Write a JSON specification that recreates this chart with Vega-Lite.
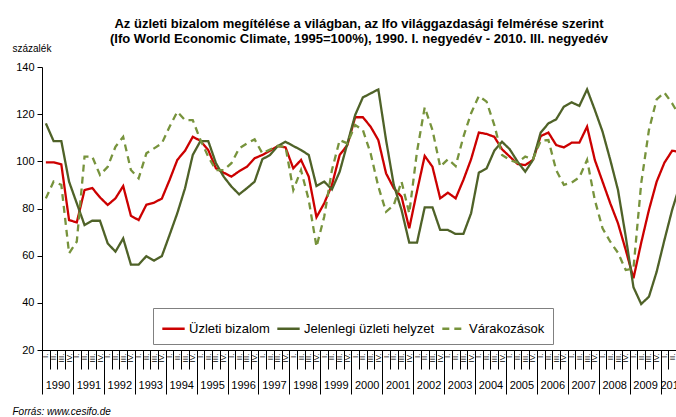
{
  "$schema": "https://vega.github.io/schema/vega-lite/v6.json",
  "width": 634,
  "height": 283,
  "autosize": {"type": "none"},
  "padding": {"left": 42, "top": 67, "right": 0, "bottom": 67},
  "background": "white",
  "config": {
    "view": {"stroke": null},
    "font": "Liberation Sans",
    "axis": {"domainColor": "black", "tickColor": "black", "labelColor": "black", "titleColor": "black", "grid": false, "labelFont": "Liberation Sans", "titleFont": "Liberation Sans"}
  },
  "title": {
    "text": ["Az üzleti bizalom megítélése a világban, az Ifo világgazdasági felmérése szerint", "(Ifo World Economic Climate, 1995=100%), 1990. I. negyedév - 2010. III.  negyedév"],
    "anchor": "middle",
    "fontSize": 13,
    "fontWeight": "bold",
    "font": "Liberation Sans",
    "color": "black",
    "lineHeight": 15,
    "offset": -3
  },
  "data": {
    "values": [
      {"t":1990.125,"Üzleti bizalom":99.6,"Jelenlegi üzleti helyzet":116.1,"Várakozások":84.3},
      {"t":1990.375,"Üzleti bizalom":99.6,"Jelenlegi üzleti helyzet":108.6,"Várakozások":91.4},
      {"t":1990.625,"Üzleti bizalom":98.7,"Jelenlegi üzleti helyzet":108.6,"Várakozások":90.0},
      {"t":1990.875,"Üzleti bizalom":75.1,"Jelenlegi üzleti helyzet":91.4,"Várakozások":61.0},
      {"t":1991.125,"Üzleti bizalom":74.1,"Jelenlegi üzleti helyzet":82.2,"Várakozások":66.0},
      {"t":1991.375,"Üzleti bizalom":87.8,"Jelenlegi üzleti helyzet":73.0,"Várakozások":102.0},
      {"t":1991.625,"Üzleti bizalom":88.7,"Jelenlegi üzleti helyzet":74.8,"Várakozások":102.0},
      {"t":1991.875,"Üzleti bizalom":84.7,"Jelenlegi üzleti helyzet":74.8,"Várakozások":94.2},
      {"t":1992.125,"Üzleti bizalom":81.5,"Jelenlegi üzleti helyzet":65.2,"Várakozások":97.7},
      {"t":1992.375,"Üzleti bizalom":84.3,"Jelenlegi üzleti helyzet":61.7,"Várakozások":106.2},
      {"t":1992.625,"Üzleti bizalom":89.5,"Jelenlegi üzleti helyzet":67.3,"Várakozások":110.4},
      {"t":1992.875,"Üzleti bizalom":76.9,"Jelenlegi üzleti helyzet":56.2,"Várakozások":96.3},
      {"t":1993.125,"Üzleti bizalom":75.1,"Jelenlegi üzleti helyzet":56.2,"Várakozások":92.8},
      {"t":1993.375,"Üzleti bizalom":81.6,"Jelenlegi üzleti helyzet":59.8,"Várakozások":103.4},
      {"t":1993.625,"Üzleti bizalom":82.5,"Jelenlegi üzleti helyzet":57.9,"Várakozások":105.5},
      {"t":1993.875,"Üzleti bizalom":84.2,"Jelenlegi üzleti helyzet":59.8,"Várakozások":107.6},
      {"t":1994.125,"Üzleti bizalom":92.1,"Jelenlegi üzleti helyzet":68.8,"Várakozások":114.7},
      {"t":1994.375,"Üzleti bizalom":100.6,"Jelenlegi üzleti helyzet":78.0,"Várakozások":121.0},
      {"t":1994.625,"Üzleti bizalom":104.5,"Jelenlegi üzleti helyzet":88.6,"Várakozások":117.5},
      {"t":1994.875,"Üzleti bizalom":110.4,"Jelenlegi üzleti helyzet":102.7,"Várakozások":117.5},
      {"t":1995.125,"Üzleti bizalom":108.7,"Jelenlegi üzleti helyzet":108.6,"Várakozások":109.0},
      {"t":1995.375,"Üzleti bizalom":104.8,"Jelenlegi üzleti helyzet":108.6,"Várakozások":102.0},
      {"t":1995.625,"Üzleti bizalom":97.0,"Jelenlegi üzleti helyzet":99.2,"Várakozások":96.3},
      {"t":1995.875,"Üzleti bizalom":95.2,"Jelenlegi üzleti helyzet":93.5,"Várakozások":96.3},
      {"t":1996.125,"Üzleti bizalom":93.5,"Jelenlegi üzleti helyzet":89.3,"Várakozások":99.2},
      {"t":1996.375,"Üzleti bizalom":95.8,"Jelenlegi üzleti helyzet":86.0,"Várakozások":105.5},
      {"t":1996.625,"Üzleti bizalom":97.7,"Jelenlegi üzleti helyzet":88.6,"Várakozások":107.6},
      {"t":1996.875,"Üzleti bizalom":101.3,"Jelenlegi üzleti helyzet":91.4,"Várakozások":109.3},
      {"t":1997.125,"Üzleti bizalom":102.7,"Jelenlegi üzleti helyzet":100.9,"Várakozások":103.4},
      {"t":1997.375,"Üzleti bizalom":104.5,"Jelenlegi üzleti helyzet":102.7,"Várakozások":105.0},
      {"t":1997.625,"Üzleti bizalom":106.5,"Jelenlegi üzleti helyzet":106.5,"Várakozások":106.5},
      {"t":1997.875,"Üzleti bizalom":105.9,"Jelenlegi üzleti helyzet":108.3,"Várakozások":106.2},
      {"t":1998.125,"Üzleti bizalom":97.0,"Jelenlegi üzleti helyzet":106.5,"Várakozások":87.8},
      {"t":1998.375,"Üzleti bizalom":100.6,"Jelenlegi üzleti helyzet":104.8,"Várakozások":96.3},
      {"t":1998.625,"Üzleti bizalom":93.5,"Jelenlegi üzleti helyzet":102.7,"Várakozások":83.6},
      {"t":1998.875,"Üzleti bizalom":76.3,"Jelenlegi üzleti helyzet":89.5,"Várakozások":63.8},
      {"t":1999.125,"Üzleti bizalom":82.2,"Jelenlegi üzleti helyzet":91.4,"Várakozások":76.5},
      {"t":1999.375,"Üzleti bizalom":90.0,"Jelenlegi üzleti helyzet":88.1,"Várakozások":96.3},
      {"t":1999.625,"Üzleti bizalom":102.7,"Jelenlegi üzleti helyzet":95.6,"Várakozások":109.0},
      {"t":1999.875,"Üzleti bizalom":106.9,"Jelenlegi üzleti helyzet":107.6,"Várakozások":107.6},
      {"t":2000.125,"Üzleti bizalom":118.7,"Jelenlegi üzleti helyzet":119.6,"Várakozások":115.4},
      {"t":2000.375,"Üzleti bizalom":118.7,"Jelenlegi üzleti helyzet":127.1,"Várakozások":113.3},
      {"t":2000.625,"Üzleti bizalom":114.7,"Jelenlegi üzleti helyzet":128.8,"Várakozások":103.4},
      {"t":2000.875,"Üzleti bizalom":109.0,"Jelenlegi üzleti helyzet":130.5,"Várakozások":89.3},
      {"t":2001.125,"Üzleti bizalom":94.9,"Jelenlegi üzleti helyzet":109.0,"Várakozások":78.6},
      {"t":2001.375,"Üzleti bizalom":88.6,"Jelenlegi üzleti helyzet":90.0,"Várakozások":81.5},
      {"t":2001.625,"Üzleti bizalom":85.0,"Jelenlegi üzleti helyzet":79.4,"Várakozások":91.4},
      {"t":2001.875,"Üzleti bizalom":71.6,"Jelenlegi üzleti helyzet":65.5,"Várakozások":78.0},
      {"t":2002.125,"Üzleti bizalom":87.3,"Jelenlegi üzleti helyzet":65.5,"Várakozások":104.1},
      {"t":2002.375,"Üzleti bizalom":102.3,"Jelenlegi üzleti helyzet":80.5,"Várakozások":122.9},
      {"t":2002.625,"Üzleti bizalom":97.7,"Jelenlegi üzleti helyzet":80.5,"Várakozások":113.3},
      {"t":2002.875,"Üzleti bizalom":84.3,"Jelenlegi üzleti helyzet":70.9,"Várakozások":97.7},
      {"t":2003.125,"Üzleti bizalom":86.7,"Jelenlegi üzleti helyzet":70.9,"Várakozások":100.9},
      {"t":2003.375,"Üzleti bizalom":84.3,"Jelenlegi üzleti helyzet":69.2,"Várakozások":98.0},
      {"t":2003.625,"Üzleti bizalom":92.1,"Jelenlegi üzleti helyzet":69.2,"Várakozások":110.4},
      {"t":2003.875,"Üzleti bizalom":100.9,"Jelenlegi üzleti helyzet":78.0,"Várakozások":120.4},
      {"t":2004.125,"Üzleti bizalom":112.2,"Jelenlegi üzleti helyzet":95.2,"Várakozások":127.7},
      {"t":2004.375,"Üzleti bizalom":111.6,"Jelenlegi üzleti helyzet":97.0,"Várakozások":125.3},
      {"t":2004.625,"Üzleti bizalom":110.4,"Jelenlegi üzleti helyzet":104.5,"Várakozások":115.4},
      {"t":2004.875,"Üzleti bizalom":105.1,"Jelenlegi üzleti helyzet":108.3,"Várakozások":102.7},
      {"t":2005.125,"Üzleti bizalom":102.0,"Jelenlegi üzleti helyzet":105.1,"Várakozások":100.6},
      {"t":2005.375,"Üzleti bizalom":98.9,"Jelenlegi üzleti helyzet":99.9,"Várakozások":99.4},
      {"t":2005.625,"Üzleti bizalom":98.4,"Jelenlegi üzleti helyzet":95.6,"Várakozások":102.0},
      {"t":2005.875,"Üzleti bizalom":100.6,"Jelenlegi üzleti helyzet":100.6,"Várakozások":100.9},
      {"t":2006.125,"Üzleti bizalom":110.7,"Jelenlegi üzleti helyzet":112.2,"Várakozások":108.7},
      {"t":2006.375,"Üzleti bizalom":112.2,"Jelenlegi üzleti helyzet":116.1,"Várakozások":109.0},
      {"t":2006.625,"Üzleti bizalom":106.9,"Jelenlegi üzleti helyzet":117.8,"Várakozások":96.3},
      {"t":2006.875,"Üzleti bizalom":105.9,"Jelenlegi üzleti helyzet":123.2,"Várakozások":90.0},
      {"t":2007.125,"Üzleti bizalom":107.9,"Jelenlegi üzleti helyzet":125.0,"Várakozások":91.0},
      {"t":2007.375,"Üzleti bizalom":107.9,"Jelenlegi üzleti helyzet":123.5,"Várakozások":93.2},
      {"t":2007.625,"Üzleti bizalom":114.7,"Jelenlegi üzleti helyzet":130.5,"Várakozások":100.6},
      {"t":2007.875,"Üzleti bizalom":100.6,"Jelenlegi üzleti helyzet":121.8,"Várakozások":83.6},
      {"t":2008.125,"Üzleti bizalom":91.4,"Jelenlegi üzleti helyzet":112.6,"Várakozások":71.6},
      {"t":2008.375,"Üzleti bizalom":82.2,"Jelenlegi üzleti helyzet":100.6,"Várakozások":65.9},
      {"t":2008.625,"Üzleti bizalom":73.7,"Jelenlegi üzleti helyzet":87.8,"Várakozások":61.2},
      {"t":2008.875,"Üzleti bizalom":62.4,"Jelenlegi üzleti helyzet":68.1,"Várakozások":53.9},
      {"t":2009.125,"Üzleti bizalom":50.4,"Jelenlegi üzleti helyzet":46.6,"Várakozások":54.6},
      {"t":2009.375,"Üzleti bizalom":65.5,"Jelenlegi üzleti helyzet":39.5,"Várakozások":90.7},
      {"t":2009.625,"Üzleti bizalom":79.4,"Jelenlegi üzleti helyzet":42.6,"Várakozások":113.3},
      {"t":2009.875,"Üzleti bizalom":91.4,"Jelenlegi üzleti helyzet":53.2,"Várakozások":126.3},
      {"t":2010.125,"Üzleti bizalom":99.4,"Jelenlegi üzleti helyzet":66.6,"Várakozások":129.1},
      {"t":2010.375,"Üzleti bizalom":104.5,"Jelenlegi üzleti helyzet":79.4,"Várakozások":124.6},
      {"t":2010.625,"Üzleti bizalom":104.0,"Jelenlegi üzleti helyzet":90.0,"Várakozások":119.0}
    ]
  },
  "resolve": {"axis": {"x": "independent"}, "scale": {"x": "shared"}},
  "layer": [
    {
      "transform": [{"fold": ["Üzleti bizalom", "Jelenlegi üzleti helyzet", "Várakozások"], "as": ["sorozat", "ertek"]}],
      "mark": {"type": "line", "strokeWidth": 2.3, "clip": true},
      "encoding": {
        "x": {
          "field": "t", "type": "quantitative",
          "scale": {"domain": [1990, 2010.5], "nice": false, "zero": false},
          "axis": {
            "orient": "bottom",
            "title": null,
            "values": [1990,1990.25,1990.5,1990.75,1991,1991.25,1991.5,1991.75,1992,1992.25,1992.5,1992.75,1993,1993.25,1993.5,1993.75,1994,1994.25,1994.5,1994.75,1995,1995.25,1995.5,1995.75,1996,1996.25,1996.5,1996.75,1997,1997.25,1997.5,1997.75,1998,1998.25,1998.5,1998.75,1999,1999.25,1999.5,1999.75,2000,2000.25,2000.5,2000.75,2001,2001.25,2001.5,2001.75,2002,2002.25,2002.5,2002.75,2003,2003.25,2003.5,2003.75,2004,2004.25,2004.5,2004.75,2005,2005.25,2005.5,2005.75,2006,2006.25,2006.5,2006.75,2007,2007.25,2007.5,2007.75,2008,2008.25,2008.5,2008.75,2009,2009.25,2009.5,2009.75,2010,2010.25,2010.5],
            "labelExpr": "(datum.value - floor(datum.value)) < 0.1 ? 'I.' : (datum.value - floor(datum.value)) < 0.3 ? 'II.' : (datum.value - floor(datum.value)) < 0.6 ? 'III.' : 'IV.'",
            "labelAngle": 270,
            "labelFontSize": 8,
            "labelPadding": -16,
            "labelOffset": 3.9,
            "labelOverlap": false,
            "labelFlush": false,
            "tickSize": 19,
            "tickWidth": 1,
            "domainWidth": 1
          }
        },
        "y": {
          "field": "ertek", "type": "quantitative",
          "scale": {"domain": [20, 140], "nice": false, "zero": false},
          "axis": {
            "values": [20, 40, 60, 80, 100, 120, 140],
            "title": "százalék",
            "titleAngle": 0,
            "titleAlign": "left",
            "titleBaseline": "middle",
            "titleX": -30,
            "titleY": -19,
            "titleFontSize": 10,
            "titleFontWeight": "normal",
            "labelFontSize": 11,
            "labelPadding": 3,
            "tickSize": 5
          }
        },
        "color": {
          "field": "sorozat", "type": "nominal",
          "scale": {"domain": ["Üzleti bizalom", "Jelenlegi üzleti helyzet", "Várakozások"], "range": ["#CC0000", "#4F6228", "#77933C"]},
          "legend": {
            "title": null,
            "orient": "none",
            "legendX": 111,
            "legendY": 241,
            "direction": "horizontal",
            "strokeColor": "#808080",
            "padding": 8,
            "symbolType": "stroke",
            "symbolSize": 500,
            "symbolStrokeWidth": 2.5,
            "labelFontSize": 13,
            "labelFont": "Liberation Sans",
            "labelColor": "black",
            "labelOffset": 3,
            "columnPadding": 2,
            "labelLimit": 300
          }
        },
        "strokeDash": {
          "field": "sorozat", "type": "nominal",
          "scale": {"domain": ["Üzleti bizalom", "Jelenlegi üzleti helyzet", "Várakozások"], "range": [[1, 0], [1, 0], [7, 5]]},
          "legend": {
            "title": null,
            "orient": "none",
            "legendX": 111,
            "legendY": 241,
            "direction": "horizontal",
            "strokeColor": "#808080",
            "padding": 8,
            "symbolType": "stroke",
            "symbolSize": 500,
            "symbolStrokeWidth": 2.5,
            "labelFontSize": 13,
            "labelFont": "Liberation Sans",
            "labelColor": "black",
            "labelOffset": 3,
            "columnPadding": 2,
            "labelLimit": 300
          }
        }
      }
    },
    {
      "mark": {"type": "point", "opacity": 0},
      "encoding": {
        "x": {
          "field": "t", "type": "quantitative",
          "axis": {
            "orient": "bottom",
            "title": null,
            "values": [1990,1991,1992,1993,1994,1995,1996,1997,1998,1999,2000,2001,2002,2003,2004,2005,2006,2007,2008,2009,2010],
            "labels": false,
            "tickSize": 44,
            "domain": false
          }
        }
      }
    },
    {
      "mark": {"type": "point", "opacity": 0},
      "encoding": {
        "x": {
          "field": "t", "type": "quantitative",
          "axis": {
            "orient": "bottom",
            "title": "Forrás: www.cesifo.de",
            "titleFontStyle": "italic",
            "titleFontWeight": "normal",
            "titleFontSize": 10,
            "titleAnchor": "start",
            "titleAlign": "left",
            "titleBaseline": "middle",
            "titleX": -30,
            "titleY": 61,
            "values": [1990.5,1991.5,1992.5,1993.5,1994.5,1995.5,1996.5,1997.5,1998.5,1999.5,2000.5,2001.5,2002.5,2003.5,2004.5,2005.5,2006.5,2007.5,2008.5,2009.5,2010.375],
            "labelExpr": "floor(datum.value)",
            "labelFontSize": 11,
            "ticks": false,
            "tickSize": 0,
            "labelPadding": 29,
            "labelOverlap": false,
            "labelFlush": false,
            "domain": false
          }
        }
      }
    }
  ]
}
